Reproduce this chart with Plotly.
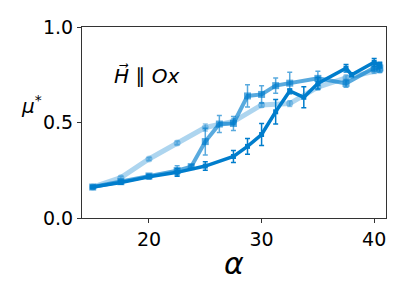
import plotly.graph_objects as go

# light series (circles)
x_light = [15, 17.5, 20, 22.5, 25, 27.5, 30, 32.5, 35, 37.5, 40, 40.5]
y_light = [0.162, 0.211, 0.309, 0.393, 0.474, 0.505, 0.592, 0.599, 0.685, 0.734, 0.772, 0.775]
e_light = [0.005, 0.008, 0.008, 0.01, 0.02, 0.015, 0.012, 0.015, 0.015, 0.015, 0.015, 0.015]

# medium series (squares)
x_mid = [15, 17.5, 20, 22.5, 23.75, 25, 26.25, 27.5, 28.75, 30, 31.25, 32.5, 35, 37.5, 40, 40.5]
y_mid = [0.162, 0.19, 0.22, 0.248, 0.269, 0.40, 0.492, 0.495, 0.639, 0.647, 0.693, 0.706, 0.731, 0.705, 0.787, 0.785]
e_mid = [0.005, 0.008, 0.01, 0.025, 0.01, 0.07, 0.045, 0.037, 0.058, 0.045, 0.04, 0.057, 0.037, 0.02, 0.02, 0.02]

# dark series
x_dark = [15, 17.5, 20, 22.5, 25, 27.5, 28.75, 30, 31.25, 32.5, 33.75, 35, 37.5, 38, 40, 40.5]
y_dark = [0.162, 0.186, 0.216, 0.239, 0.272, 0.322, 0.375, 0.437, 0.556, 0.665, 0.632, 0.705, 0.784, 0.75, 0.815, 0.8]
e_dark = [0.005, 0.008, 0.01, 0.02, 0.022, 0.031, 0.041, 0.058, 0.064, 0.01, 0.055, 0.03, 0.02, 0.01, 0.02, 0.015]

x_ticks = [20, 30, 40]
y_ticks = [0.0, 0.5, 1.0]

fig = go.Figure()

series = [
    (x_light, y_light, e_light, "rgba(0,125,204,0.32)", "circle", 7, 5),
    (x_mid, y_mid, e_mid, "rgba(0,125,204,0.65)", "square", 7, 4),
    (x_dark, y_dark, e_dark, "rgba(0,125,204,1.0)", "square", 5, 3.5),
]
for xs, ys, es, col, sym, ms, lw in series:
    fig.add_trace(go.Scatter(
        x=xs, y=ys, mode="lines+markers",
        line=dict(color=col, width=lw),
        marker=dict(symbol=sym, size=ms, color=col),
        error_y=dict(type="data", array=es, color=col, thickness=1.5, width=2.5),
        showlegend=False,
    ))

fig.add_annotation(x=0.1, y=0.82, xref="paper", yref="paper", showarrow=False,
                   text="<i>H\u20d7</i> \u2225 <i>Ox</i>", xanchor="left",
                   font=dict(size=20, color="black"))
fig.add_annotation(x=-0.165, y=0.59, xref="paper", yref="paper", showarrow=False,
                   text="<i>\u03bc</i><sup>*</sup>", xanchor="center",
                   font=dict(size=20, color="black"))

axis_style = dict(showgrid=False, zeroline=False, showline=True, mirror=True,
                  linecolor="#333", linewidth=1, ticks="outside", ticklen=4,
                  tickcolor="#333", tickfont=dict(size=19, color="black"),
                  ticklabeloverflow="allow")
fig.update_xaxes(range=[14.05, 41.05], tickvals=x_ticks,
                 title=dict(text="<i>\u03b1</i>", font=dict(size=30, color="black"), standoff=4),
                 **axis_style)
fig.update_yaxes(range=[0, 1.0], tickvals=y_ticks, tickformat=".1f", **axis_style)

# page body has an 8px margin, so the figure is 8px smaller than the window
fig.update_layout(width=391, height=282, margin=dict(l=74, r=13, t=8, b=72),
                  plot_bgcolor="white", paper_bgcolor="white",
                  font=dict(family="DejaVu Sans"))

fig.write_html("out.html")
